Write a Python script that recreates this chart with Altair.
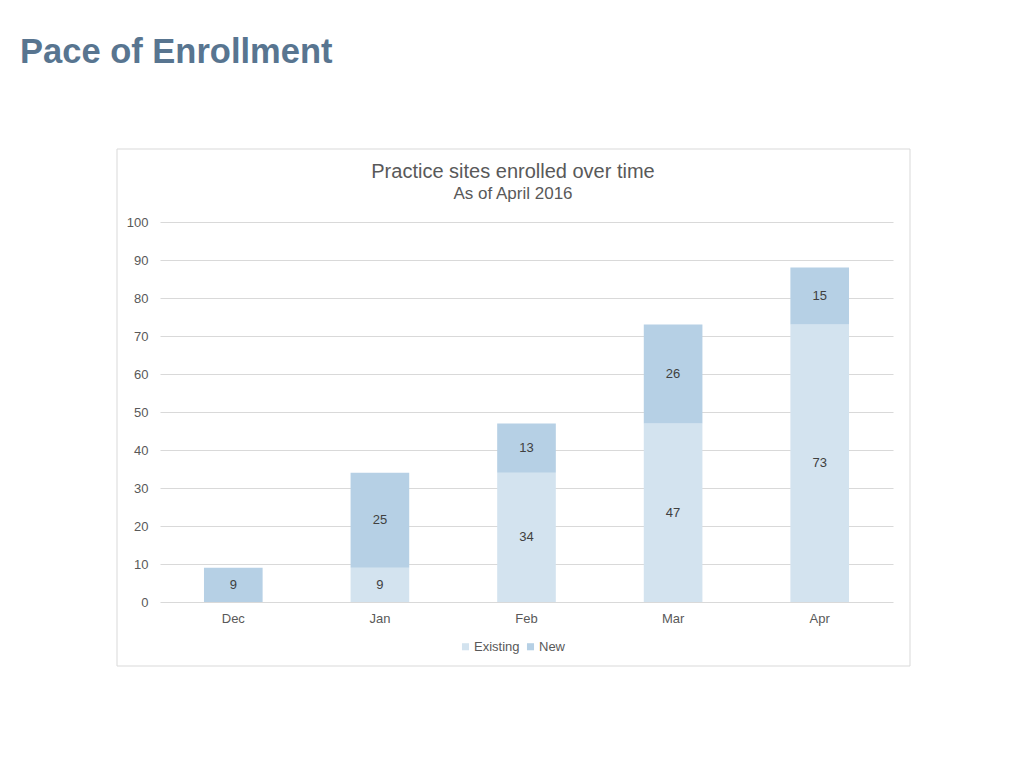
import altair as alt
import pandas as pd

months = ["Dec", "Jan", "Feb", "Mar", "Apr"]
existing = [0, 9, 34, 47, 73]
new = [9, 25, 13, 26, 15]
series_names = ["Existing", "New"]
series_colors = ["#d3e3ef", "#b6d0e5"]
y_ticks = [0, 10, 20, 30, 40, 50, 60, 70, 80, 90, 100]

rows = []
for m, e, n in zip(months, existing, new):
    rows.append({"month": m, "series": "Existing", "value": e, "order": 0})
    rows.append({"month": m, "series": "New", "value": n, "order": 1})
df = pd.DataFrame(rows)

FONT = "Liberation Sans"
TXT = "#595959"

base = alt.Chart(df).transform_stack(
    stack="value", groupby=["month"], as_=["y0", "y1"],
    sort=[alt.SortField("order", order="ascending")]
).transform_calculate(mid="(datum.y0 + datum.y1) / 2")

xscale = alt.Scale(paddingInner=0.6, paddingOuter=0.3)
yscale = alt.Scale(domain=[0, 100])
xaxis = alt.Axis(title=None, domain=False, ticks=False, labelAngle=0,
                 labelPadding=10, labelFontSize=13, labelColor=TXT, labelFont=FONT)
yaxis = alt.Axis(title=None, values=y_ticks, domain=False, ticks=False,
                 grid=True, gridColor="#d9d9d9", labelPadding=12,
                 labelFontSize=13, labelColor=TXT, labelFont=FONT)

bars = base.mark_bar().encode(
    x=alt.X("month:N", sort=months, scale=xscale, axis=xaxis),
    y=alt.Y("y0:Q", scale=yscale, axis=yaxis),
    y2="y1:Q",
    color=alt.Color("series:N",
                    scale=alt.Scale(domain=series_names, range=series_colors),
                    legend=alt.Legend(title=None, orient="none", legendX=299, legendY=418,
                                      direction="horizontal", symbolType="square",
                                      symbolSize=50, symbolStrokeWidth=0,
                                      labelFontSize=13, labelColor=TXT, labelFont=FONT,
                                      columnPadding=4, labelOffset=2)),
)

labels = base.transform_filter("datum.value > 0").mark_text(
    fontSize=13, color="#404040", font=FONT
).encode(x=alt.X("month:N", sort=months, scale=xscale, axis=xaxis),
         y=alt.Y("mid:Q", scale=yscale, axis=yaxis),
         text="value:Q")

one = pd.DataFrame({"k": [0]})
box = alt.Chart(one).mark_rect(fill=None, stroke="#d9d9d9", strokeWidth=1).encode(
    x=alt.value(-43), x2=alt.value(750), y=alt.value(-73), y2=alt.value(444))

page_title = alt.Chart(one).mark_text(
    text="Pace of Enrollment", fontSize=34.5, fontWeight="bold", font=FONT,
    color="#587590", align="left", baseline="alphabetic"
).encode(x=alt.value(-140), y=alt.value(-159))

chart_title = alt.Chart(one).mark_text(
    text="Practice sites enrolled over time", fontSize=20, font=FONT,
    color=TXT, align="center", baseline="middle"
).encode(x=alt.value(353), y=alt.value(-50))

chart_sub = alt.Chart(one).mark_text(
    text="As of April 2016", fontSize=17, font=FONT,
    color=TXT, align="center", baseline="middle"
).encode(x=alt.value(353), y=alt.value(-28))

chart = alt.layer(box, bars, labels, page_title, chart_title, chart_sub).properties(
    width=733, height=380,
    background="white",
    autosize=alt.AutoSizeParams(type="none"),
    padding={"left": 152, "top": 214, "right": 100, "bottom": 100},
).configure_view(stroke=None)

chart.save("out.html", embed_options={"renderer": "svg", "actions": False})
